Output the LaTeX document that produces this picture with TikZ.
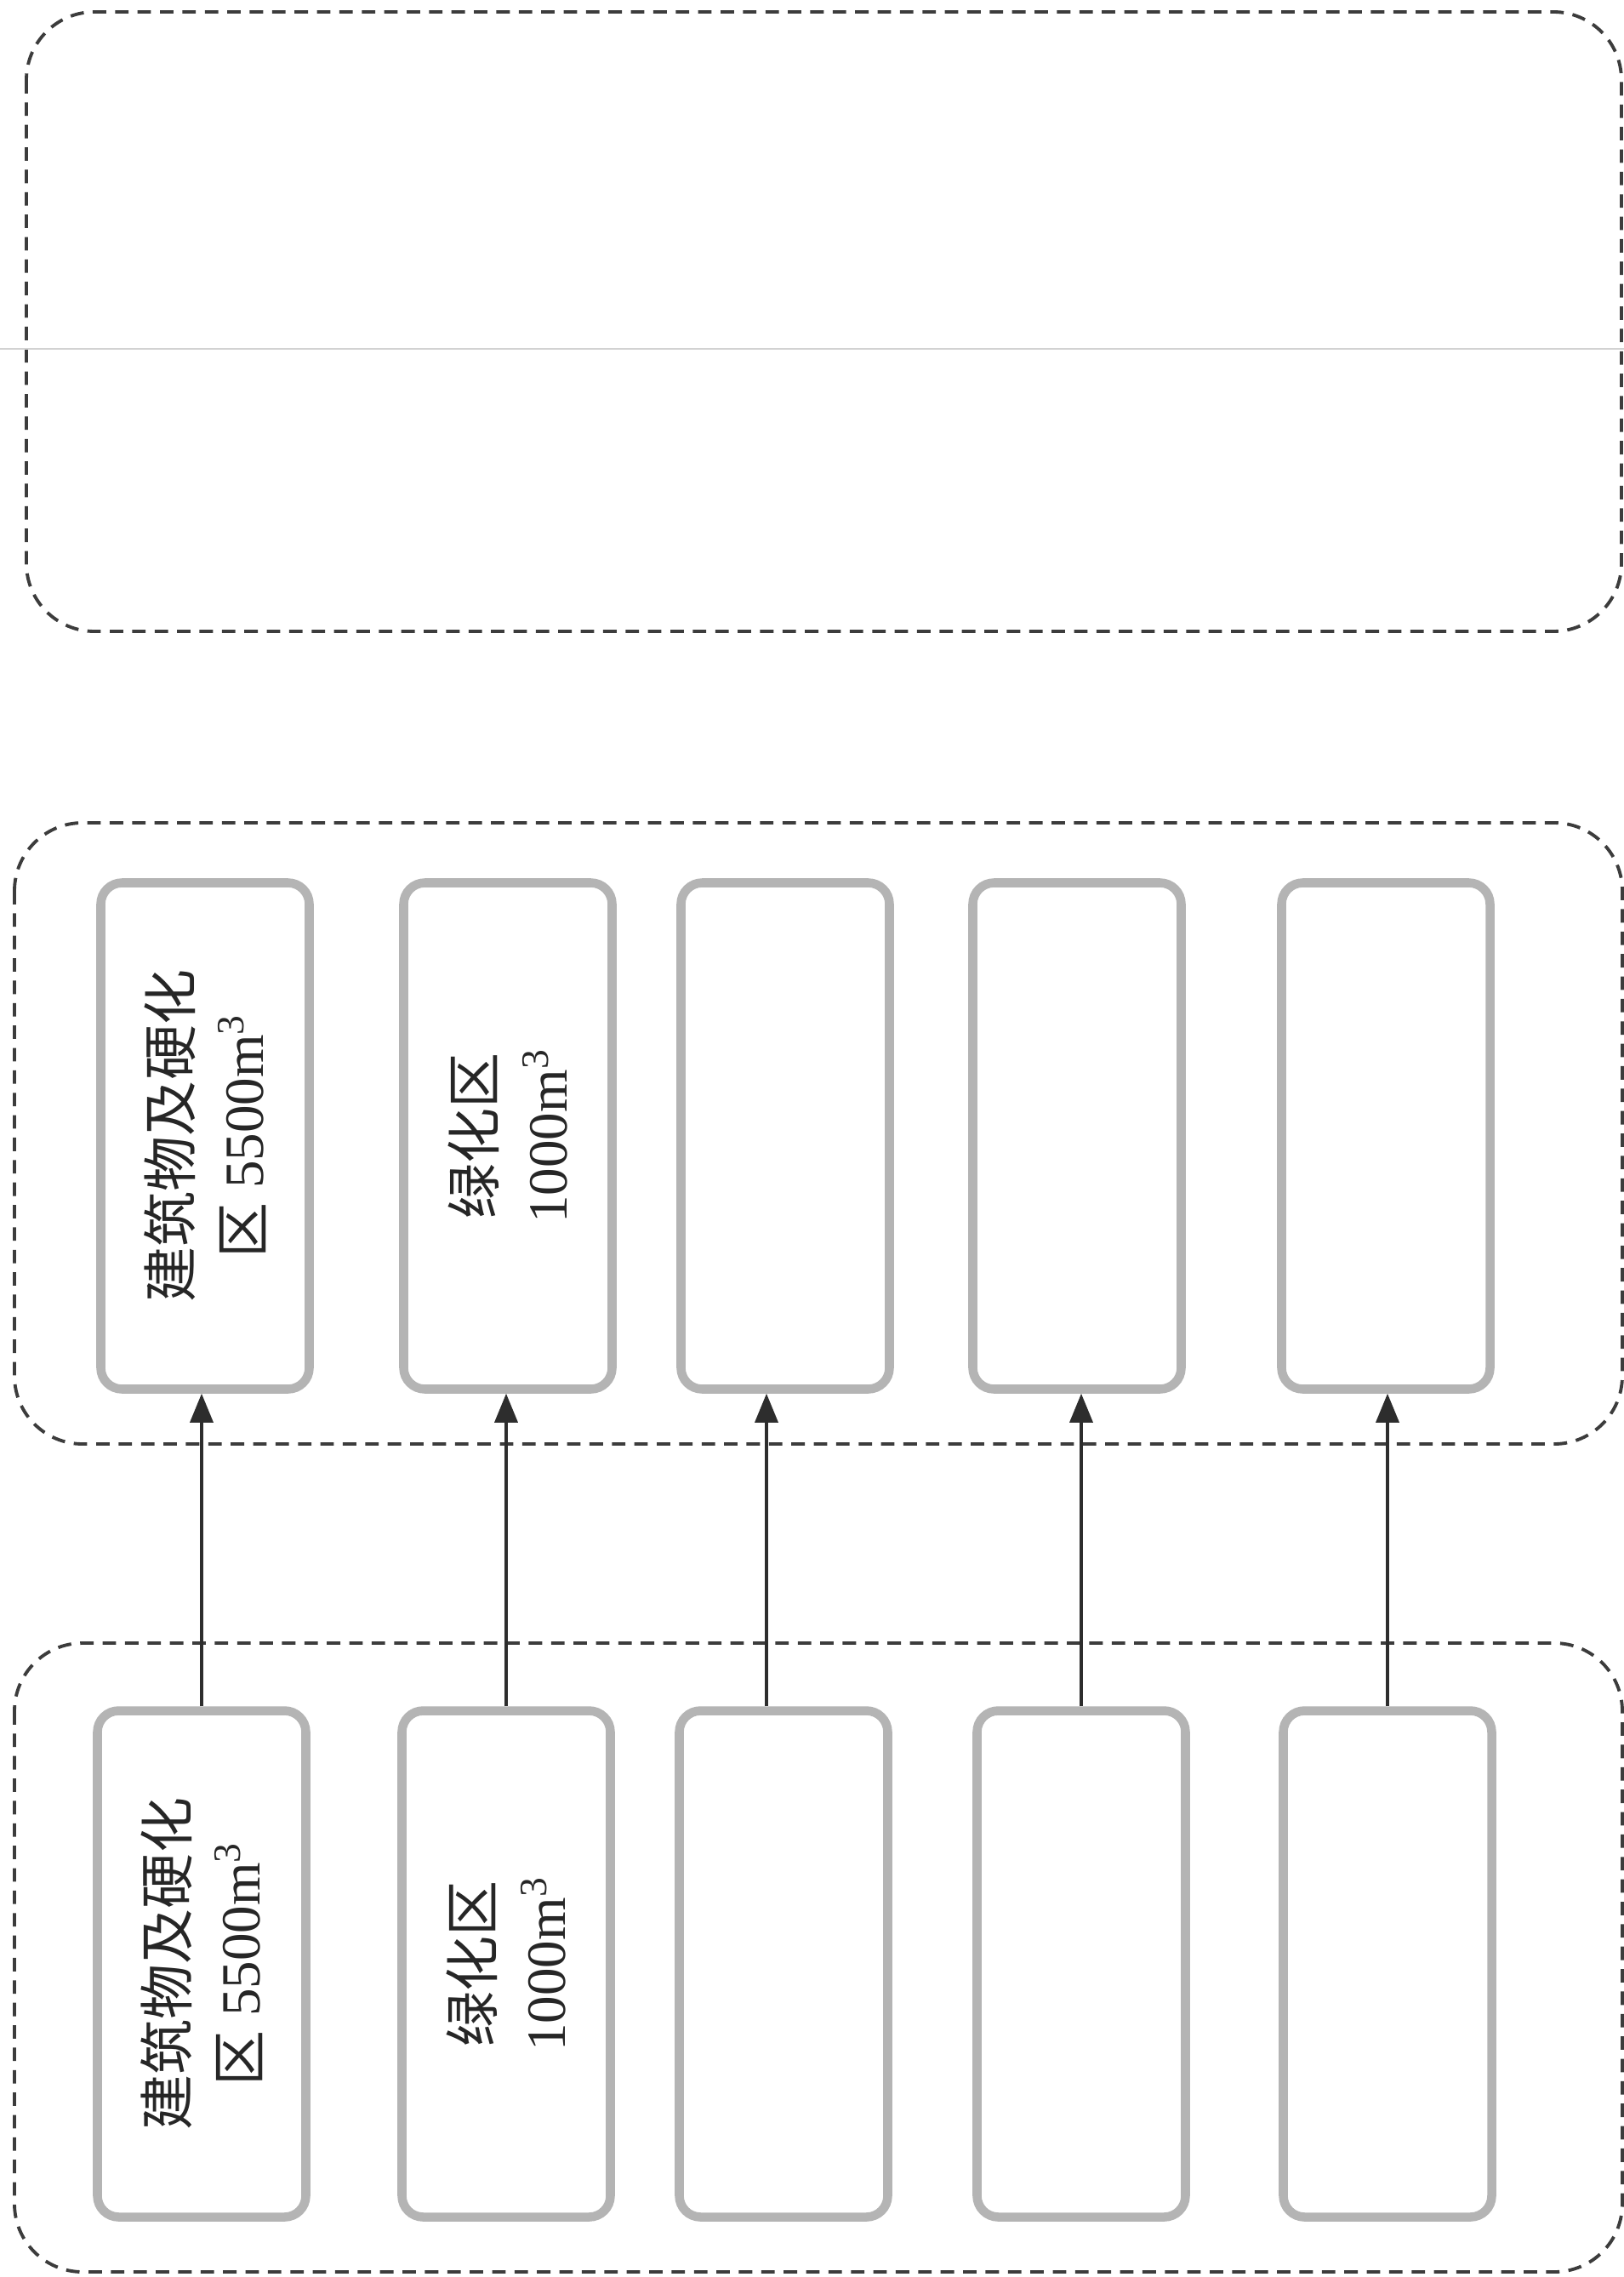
\documentclass[tikz,border=0pt]{standalone}
\usepackage{fontspec}
\setmainfont{Liberation Serif}
\newfontfamily\cjk{Noto Sans CJK SC}
\usepackage{tikz}
\usetikzlibrary{arrows.meta}
\definecolor{frame_gray}{RGB}{60,60,60}
\definecolor{box_gray}{RGB}{180,180,180}
\definecolor{line_dark}{RGB}{45,45,45}
\definecolor{scan_gray}{RGB}{210,210,210}

\begin{document}
\begin{tikzpicture}[
    groupframe/.style={draw=frame_gray, line width=1.1pt,
      dash pattern=on 4.5pt off 3pt, rounded corners=0.8cm},
    zonebox/.style={draw=box_gray, line width=3pt, rounded corners=0.25cm,
      minimum width=2.45cm, minimum height=5.95cm, inner sep=0pt},
    zonetext/.style={rotate=90, align=center, text=black!85,
      font={\fontsize{18.5pt}{24pt}\selectfont}},
    flow/.style={-{Triangle[length=0.34cm,width=0.27cm]}, line_dark, line width=1pt}]
  \useasboundingbox (0,0) rectangle (19.09,-26.76);
  % Group frames
  \draw[groupframe] (0.31,-0.14) rectangle (19.06,-7.42);
  \draw[scan_gray, line width=0.4pt] (0,-4.1) -- (19.09,-4.1);
  \draw[groupframe] (0.17,-9.67) rectangle (19.07,-16.97);
  \draw[groupframe] (0.17,-19.31) rectangle (19.07,-26.70);
  % Zone boxes: upper row m1..m5, lower row b1..b5
  \foreach \n/\x in {1/2.41, 2/5.97, 3/9.23, 4/12.66, 5/16.29}
    \node[zonebox] (m\n) at (\x,-13.35) {};
  \foreach \n/\x in {1/2.37, 2/5.95, 3/9.21, 4/12.71, 5/16.31}
    \node[zonebox] (b\n) at (\x,-23.08) {};
  % Labels
  \node[zonetext] (m1t) at (m1) {{\cjk 建筑物及硬化}\\{\cjk 区} 5500m\textsuperscript{3}};
  \node[zonetext] (m2t) at (m2) {{\cjk 绿化区}\\1000m\textsuperscript{3}};
  \node[zonetext] (b1t) at (b1) {{\cjk 建筑物及硬化}\\{\cjk 区} 5500m\textsuperscript{3}};
  \node[zonetext] (b2t) at (b2) {{\cjk 绿化区}\\1000m\textsuperscript{3}};
  % Arrows
  \foreach \n in {1,2,4,5}
    \draw[flow] (b\n.north) -- (b\n.north |- m\n.south);
  \draw[flow] ([xshift=-0.2cm]b3.north) -- ([xshift=-0.2cm]b3.north |- m3.south);
\end{tikzpicture}
\end{document}
